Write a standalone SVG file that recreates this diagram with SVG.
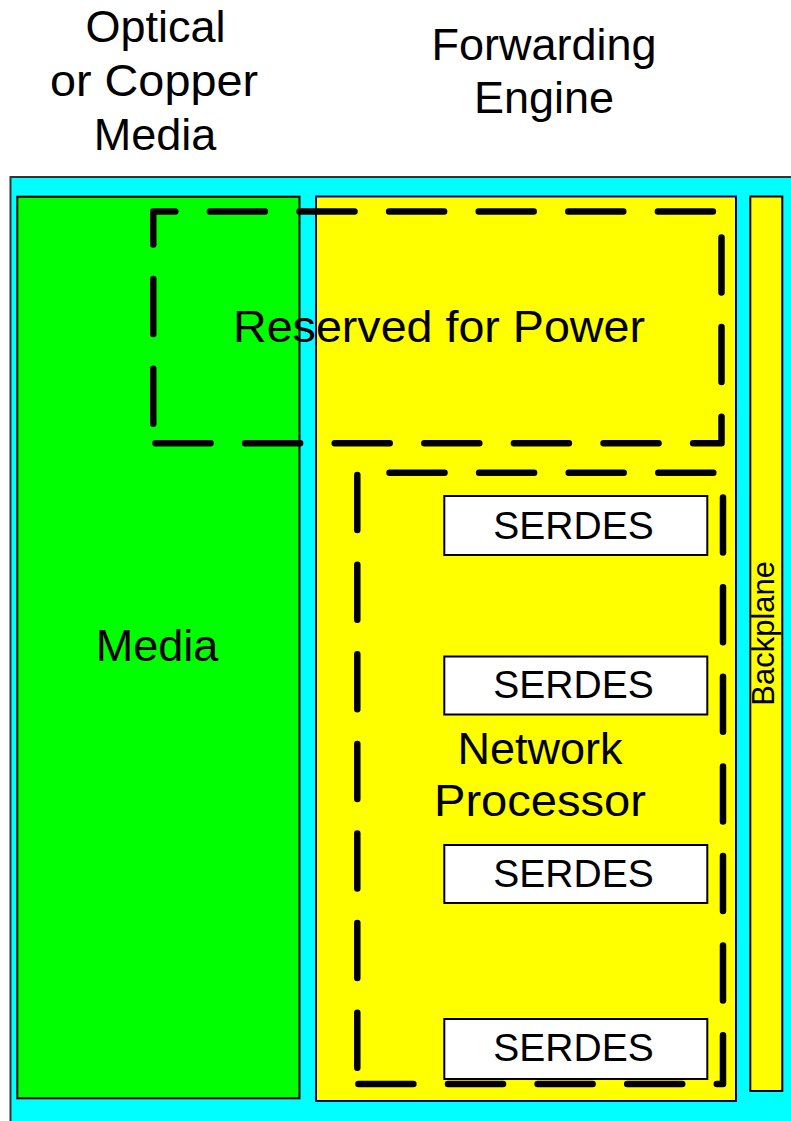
<svg xmlns="http://www.w3.org/2000/svg" width="791" height="1121" viewBox="0 0 791 1121">
<style>
.lbl{font-family:"Liberation Sans",Arial,sans-serif;fill:#000;text-anchor:middle}
.big{font-size:45px}
.ser{font-size:39px}
.box{fill:#fff;stroke:#000;stroke-width:2}
.dash{fill:none;stroke:#000;stroke-width:6.5;stroke-linecap:round;stroke-linejoin:round;stroke-dasharray:55 34.6}
</style>
<rect width="791" height="1121" fill="#fff"/>
<g id="board">
<rect x="10.5" y="177" width="790" height="960" fill="#00ffff" stroke="#333" stroke-width="2"/>
</g>
<g id="media">
<rect x="17.3" y="196.7" width="282.2" height="901.6" fill="#00ff00" stroke="#000" stroke-width="2"/>
<text class="lbl big" x="157" y="661">Media</text>
</g>
<g id="forwarding-engine">
<rect x="316" y="196.5" width="420" height="904.5" fill="#ffff00" stroke="#000080" stroke-width="2"/>
</g>
<g id="backplane">
<rect x="750.3" y="196.5" width="32" height="894.5" fill="#ffff00" stroke="#000" stroke-width="2"/>
<text class="lbl" font-size="31" transform="translate(774,633.3) rotate(-90)">Backplane</text>
</g>
<g id="serdes1">
<rect class="box" x="444.3" y="496" width="263" height="59"/>
<text class="lbl ser" x="573.5" y="538.5">SERDES</text>
</g>
<g id="serdes2">
<rect class="box" x="444.3" y="656.5" width="263" height="58"/>
<text class="lbl ser" x="573.5" y="698">SERDES</text>
</g>
<g id="serdes3">
<rect class="box" x="444.3" y="845" width="263" height="58"/>
<text class="lbl ser" x="573.5" y="886.5">SERDES</text>
</g>
<g id="serdes4">
<rect class="box" x="444.3" y="1019" width="263" height="60"/>
<text class="lbl ser" x="573.5" y="1061">SERDES</text>
</g>
<g id="reserved-for-power">
<path class="dash" d="M153.3,443.3 V211.5 H721.5 V443.3 Z" stroke-dashoffset="70"/>
<text class="lbl big" x="439" y="342" textLength="412" lengthAdjust="spacingAndGlyphs">Reserved for Power</text>
</g>
<g id="network-processor">
<path class="dash" d="M357.3,1084 V472.7 H723 V1084 Z" stroke-dashoffset="73.3"/>
<text class="lbl big" x="540" y="764">Network</text>
<text class="lbl big" x="540" y="816" textLength="212" lengthAdjust="spacingAndGlyphs">Processor</text>
</g>
<g id="labels">
<text class="lbl big" x="155.5" y="42">Optical</text>
<text class="lbl big" x="154" y="96" textLength="208" lengthAdjust="spacingAndGlyphs">or Copper</text>
<text class="lbl big" x="155" y="150">Media</text>
<text class="lbl big" x="544" y="60">Forwarding</text>
<text class="lbl big" x="544" y="113">Engine</text>
</g>
<g id="connectors"></g>
</svg>
